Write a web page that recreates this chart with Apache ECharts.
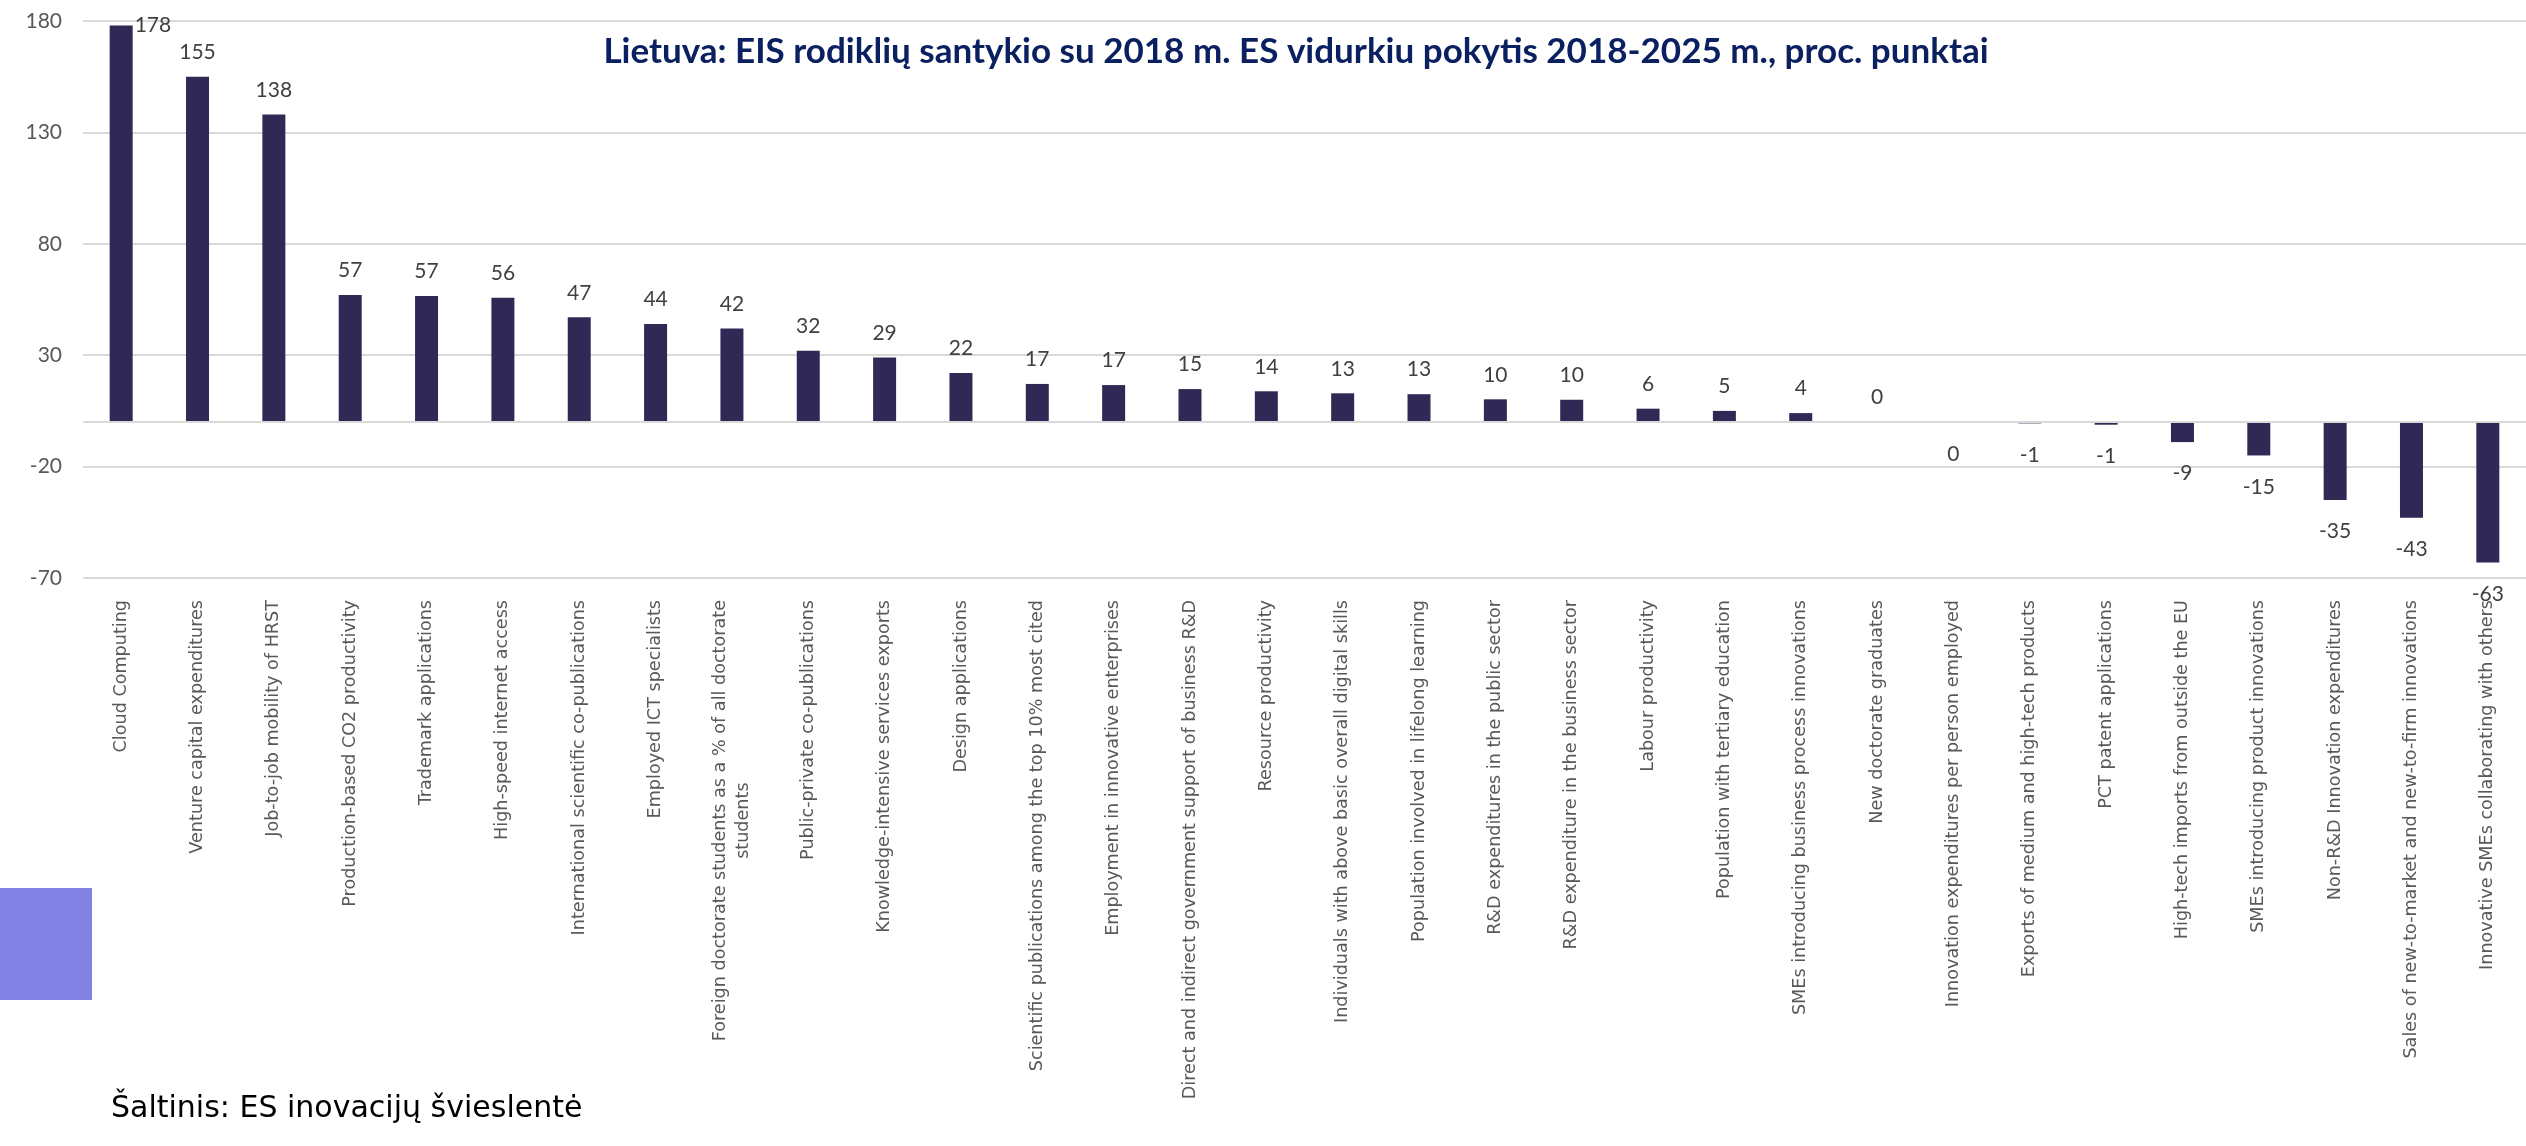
<!DOCTYPE html>
<html>
<head>
<meta charset="utf-8">
<script src="https://cdn.jsdelivr.net/npm/echarts@6/dist/echarts.min.js"></script>
<style>
  html, body { margin: 0; padding: 0; background: #fff; }
  #eisChart { width: 2526px; height: 1146px; }
</style>
</head>
<body>
<div id="eisChart"></div>
<script>
const categories = [
  'Cloud Computing',
  'Venture capital expenditures',
  'Job-to-job mobility of HRST',
  'Production-based CO2 productivity',
  'Trademark applications',
  'High-speed internet access',
  'International scientific co-publications',
  'Employed ICT specialists',
  'Foreign doctorate students as a % of all doctorate\nstudents',
  'Public-private co-publications',
  'Knowledge-intensive services exports',
  'Design applications',
  'Scientific publications among the top 10% most cited',
  'Employment in innovative enterprises',
  'Direct and indirect government support of business R&D',
  'Resource productivity',
  'Individuals with above basic overall digital skills',
  'Population involved in lifelong learning',
  'R&D expenditures in the public sector',
  'R&D expenditure in the business sector',
  'Labour productivity',
  'Population with tertiary education',
  'SMEs introducing business process innovations',
  'New doctorate graduates',
  'Innovation expenditures per person employed',
  'Exports of medium and high-tech products',
  'PCT patent applications',
  'High-tech imports from outside the EU',
  'SMEs introducing product innovations',
  'Non-R&D Innovation expenditures',
  'Sales of new-to-market and new-to-firm innovations',
  'Innovative SMEs collaborating with others'
];
// proc. punktai
const values = [178, 155, 138, 57, 56.6, 55.8, 47, 44, 42, 32, 29, 22, 17.1, 16.6, 14.8, 13.8, 12.9, 12.5, 10.2, 10,
  6, 5, 4, 0, -0.3, -0.6, -1.2, -9, -15, -35, -43, -63];
const yTicks = { min: -70, max: 180, step: 50 };

const titleText = 'Lietuva: EIS rodiklių santykio su 2018 m. ES vidurkiu pokytis 2018-2025 m., proc. punktai';
const sourceText = 'Šaltinis: ES inovacijų švieslentė';

const barData = values.map((v, i) => {
  let label = v < 0 ? { position: 'bottom', distance: 21 } : { position: 'top' };
  if (i === 0) {
    // top bar touches the max, label goes to the right like in excel
    label = { position: ['100%', 0], align: 'left', verticalAlign: 'middle', offset: [2, 0] };
  }
  return { value: v, label: label };
});

let option = {
  animation: false,
  backgroundColor: '#fff',
  title: {
    text: titleText,
    left: 1291,
    textAlign: 'center',
    top: 29,
    textStyle: {
      fontFamily: 'Lato',
      fontWeight: 'bold',
      fontSize: 35,
      color: '#0b2060'
    }
  },
  grid: {
    left: 83,
    top: 21,
    width: 2447,
    height: 557
  },
  xAxis: {
    type: 'category',
    data: categories,
    axisLine: { show: false, onZero: false },
    axisTick: { show: false },
    axisLabel: {
      interval: 0,
      rotate: 90,
      margin: 22,
      color: '#595959',
      fontFamily: 'DejaVu Sans',
      fontSize: 17.6,
      lineHeight: 23,
      formatter: function (val) {
        return val.split('\n').map(s => '{c|' + s + '}').join('\n');
      },
      rich: {
        c: {
          align: 'center',
          color: '#595959',
          fontFamily: 'DejaVu Sans',
          fontSize: 17.6,
          lineHeight: 23
        }
      }
    }
  },
  yAxis: {
    type: 'value',
    min: yTicks.min,
    max: yTicks.max,
    interval: yTicks.step,
    axisLine: { show: false },
    axisTick: { show: false },
    axisLabel: {
      margin: 21,
      color: '#595959',
      fontFamily: 'Lato',
      fontSize: 21
    },
    splitLine: {
      lineStyle: { color: '#d9d9d9', width: 2 }
    }
  },
  series: [
    {
      type: 'bar',
      data: barData,
      barWidth: 23,
      itemStyle: { color: '#302956' },
      label: {
        show: true,
        distance: 14,
        color: '#404040',
        fontFamily: 'Lato',
        fontSize: 21,
        formatter: p => String(Math.round(p.value))
      },
      markLine: {
        silent: true,
        symbol: ['none', 'none'],
        label: { show: false },
        lineStyle: { color: '#d9d9d9', type: 'solid', width: 2 },
        data: [{ yAxis: 0 }]
      }
    }
  ],
  graphic: [
    {
      type: 'rect',
      left: 0,
      top: 888,
      shape: { width: 92, height: 112 },
      style: { fill: '#8381e3' }
    },
    {
      type: 'text',
      left: 111,
      top: 1094,
      style: {
        text: sourceText,
        fontFamily: 'DejaVu Sans',
        fontSize: 30,
        fill: '#000'
      }
    }
  ]
};

const chart = echarts.init(document.getElementById('eisChart'));
chart.setOption(option);
</script>
</body>
</html>
